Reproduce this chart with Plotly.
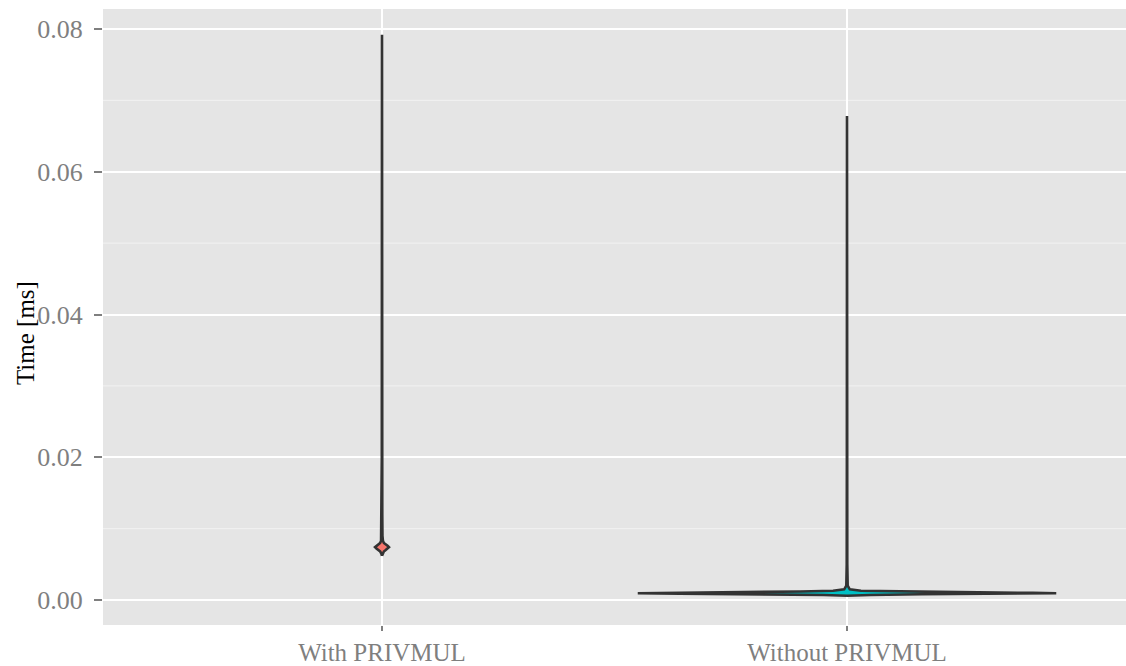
import plotly.graph_objects as go

categories = ["With PRIVMUL", "Without PRIVMUL"]
fill_colors = ["#F8766D", "#00BFC4"]

# density profiles (time in ms, violin half-width in category units)
with_y = [0.0062, 0.0065, 0.0068, 0.0070, 0.0072, 0.0074, 0.0076, 0.0078, 0.0080,
          0.0083, 0.0090, 0.0120, 0.0200, 0.0400, 0.0600, 0.0792]
with_w = [0.0, 0.0015, 0.004, 0.008, 0.012, 0.015, 0.012, 0.008, 0.004,
          0.002, 0.001, 0.0006, 0.0004, 0.0003, 0.0002, 0.0]

without_y = [0.0006, 0.0007, 0.0008, 0.0009, 0.00095, 0.0010, 0.0011, 0.0012,
             0.0013, 0.0015, 0.0020, 0.0050, 0.0200, 0.0400, 0.0678]
without_w = [0.0, 0.05, 0.16, 0.36, 0.45, 0.40, 0.24, 0.10, 0.03, 0.006,
             0.0015, 0.0006, 0.0003, 0.0002, 0.0]

y_ticks = [0.00, 0.02, 0.04, 0.06, 0.08]
y_tick_labels = ["0.00", "0.02", "0.04", "0.06", "0.08"]
y_minor = [0.01, 0.03, 0.05, 0.07]
y_title = "Time [ms]"

fig = go.Figure()

profiles = [(with_y, with_w), (without_y, without_w)]
for i, (ys, ws) in enumerate(profiles):
    c = i + 1
    xs = [c + w for w in ws] + [c - w for w in reversed(ws)]
    yy = list(ys) + list(reversed(ys))
    xs.append(xs[0]); yy.append(yy[0])
    fig.add_trace(go.Scatter(x=xs, y=yy, mode="lines", fill="toself",
                             fillcolor=fill_colors[i],
                             line=dict(color="#333333", width=2.6),
                             hoverinfo="skip", showlegend=False))

# minor grid lines
for v in y_minor:
    fig.add_shape(type="line", xref="paper", x0=0, x1=1, yref="y", y0=v, y1=v,
                  line=dict(color="#F2F2F2", width=1), layer="below")

font_family = "Liberation Serif, Times New Roman, serif"
fig.update_layout(
    width=1126, height=666,
    paper_bgcolor="white", plot_bgcolor="#E5E5E5",
    margin=dict(l=103, r=0, t=9, b=41, autoexpand=False),
    font=dict(family=font_family),
    xaxis=dict(range=[0.4, 2.6], tickvals=[1, 2], ticktext=categories,
               showgrid=True, gridcolor="white", gridwidth=2,
               zeroline=False, ticks="outside", ticklen=5, tickwidth=1.5,
               tickcolor="#7F7F7F", ticklabelstandoff=0, automargin=False,
               tickfont=dict(family=font_family, size=25, color="#7F7F7F")),
    yaxis=dict(range=[-0.0035, 0.0828], tickvals=y_ticks, ticktext=y_tick_labels,
               showgrid=True, gridcolor="white", gridwidth=2,
               zeroline=False, ticks="outside", ticklen=8, tickwidth=1.5,
               tickcolor="#7F7F7F", ticklabelstandoff=6, automargin=False,
               tickfont=dict(family=font_family, size=26, color="#7F7F7F")),
)
fig.add_annotation(text=y_title, textangle=-90, showarrow=False,
                   xref="paper", yref="paper", x=-0.0762, y=0.474,
                   xanchor="center", yanchor="middle",
                   font=dict(family=font_family, size=25, color="black"))

fig.write_html("out.html", config={"displayModeBar": False},
               post_script="document.body.style.margin='0';"
                           "document.body.style.overflow='hidden';")
